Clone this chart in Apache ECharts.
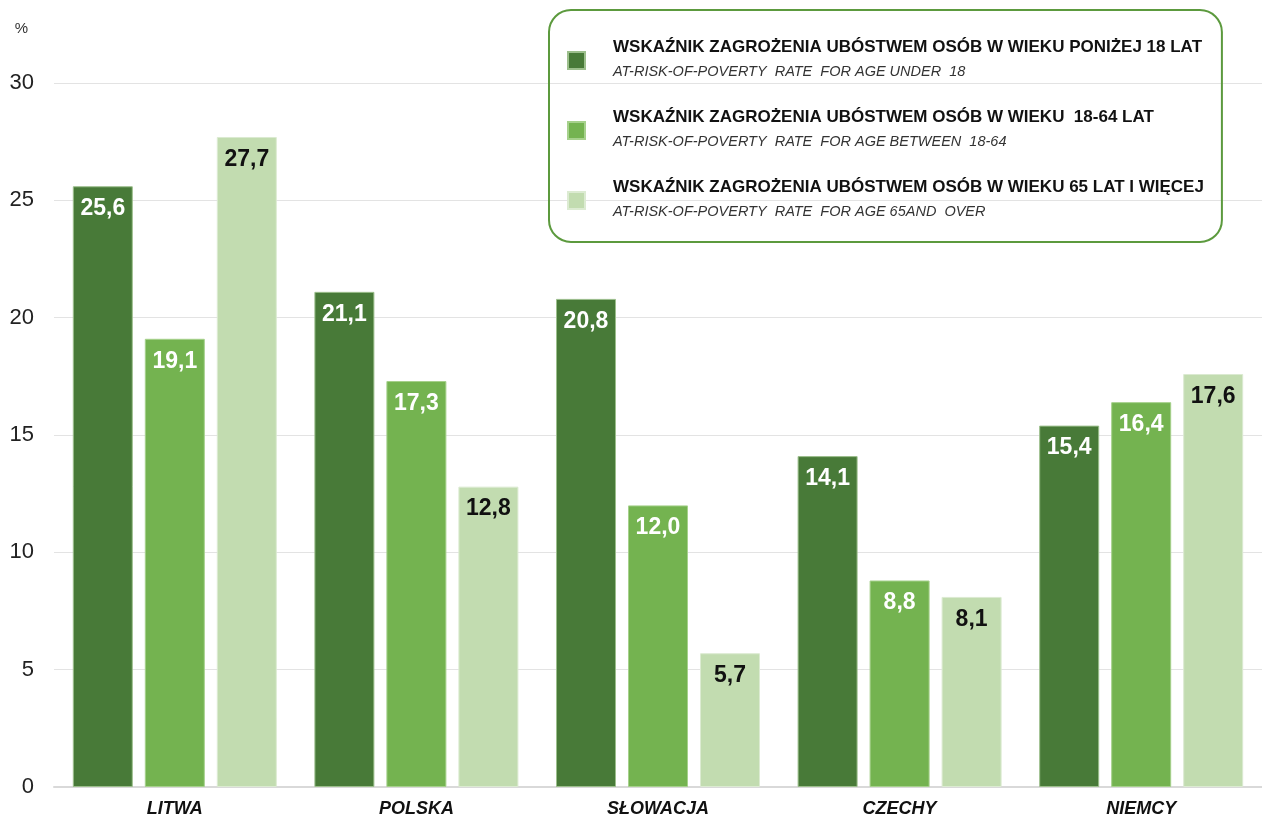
<!DOCTYPE html>
<html>
<head>
<meta charset="utf-8">
<title>Wskaźnik zagrożenia ubóstwem</title>
<script src="https://cdn.jsdelivr.net/npm/echarts@6/dist/echarts.min.js"></script>
<style>
  html, body { margin: 0; padding: 0; background: #fff; }
  #chart { width: 1262px; height: 821px; }
</style>
</head>
<body>
<div id="chart"></div>
<script>
// countries
const categories = ['LITWA', 'POLSKA', 'SŁOWACJA', 'CZECHY', 'NIEMCY'];

// at-risk-of-poverty rate, %
const under18 = [25.6, 21.1, 20.8, 14.1, 15.4];
const age18to64 = [19.1, 17.3, 12.0, 8.8, 16.4];
const age65plus = [27.7, 12.8, 5.7, 8.1, 17.6];

const seriesNames = [
  ['WSKAŹNIK ZAGROŻENIA UBÓSTWEM OSÓB W WIEKU PONIŻEJ 18 LAT', 'AT-RISK-OF-POVERTY  RATE  FOR AGE UNDER  18'],
  ['WSKAŹNIK ZAGROŻENIA UBÓSTWEM OSÓB W WIEKU  18-64 LAT', 'AT-RISK-OF-POVERTY  RATE  FOR AGE BETWEEN  18-64'],
  ['WSKAŹNIK ZAGROŻENIA UBÓSTWEM OSÓB W WIEKU 65 LAT I WIĘCEJ', 'AT-RISK-OF-POVERTY  RATE  FOR AGE 65AND  OVER']
];

const colors = ['#487a38', '#74b350', '#c2dcb0'];
const borders = ['#9cbf8c', '#a6d18c', '#dcebd2'];
const labelColors = ['#fff', '#fff', '#111'];

const chart = echarts.init(document.getElementById('chart'));

const fmt = p => p.value.toFixed(1).replace('.', ',');

function makeSeries(i, data) {
  return {
    name: seriesNames[i][0],
    type: 'bar',
    data: data,
    barWidth: 60,
    barGap: '20%',
    itemStyle: { color: colors[i], borderColor: borders[i], borderWidth: 1 },
    label: {
      show: true,
      position: 'insideTop',
      distance: 11,
      formatter: fmt,
      color: labelColors[i],
      fontWeight: 'bold',
      fontSize: 23
    }
  };
}

const nameLookup = {};
seriesNames.forEach(n => { nameLookup[n[0]] = n[1]; });

chart.setOption({
  animation: false,
  textStyle: { fontFamily: 'Liberation Sans, Arial, sans-serif' },
  grid: { left: 54, top: 83, width: 1212, bottom: 34, containLabel: false },
  legend: {
    orient: 'vertical',
    left: 549,
    top: 10,
    padding: [29, 18, 23, 18],
    itemGap: 30,
    itemWidth: 17,
    itemHeight: 17,
    icon: 'rect',
    borderColor: '#5c9a3e',
    borderWidth: 2,
    borderRadius: 22,
    formatter: name => '{b|' + name + '}\n{i|' + nameLookup[name] + '}',
    textStyle: {
      padding: [0, 0, 0, 23],
      rich: {
        b: {
          fontWeight: 'bold',
          fontSize: 17,
          color: '#111',
          lineHeight: 22
        },
        i: {
          fontStyle: 'italic',
          fontSize: 14.5,
          color: '#333',
          lineHeight: 26
        }
      }
    }
  },
  xAxis: {
    type: 'category',
    data: categories,
    axisTick: { show: false },
    axisLine: { lineStyle: { color: '#d9d9d9', width: 2 } },
    axisLabel: {
      margin: 13,
      color: '#111',
      fontWeight: 'bold',
      fontStyle: 'italic',
      fontSize: 18
    }
  },
  yAxis: {
    type: 'value',
    min: 0,
    max: 30,
    interval: 5,
    name: '%',
    nameLocation: 'end',
    nameGap: 47,
    nameTextStyle: { color: '#333', fontSize: 15, align: 'right', padding: [0, 26, 0, 0] },
    axisLine: { show: false },
    axisTick: { show: false },
    splitLine: { lineStyle: { color: '#e3e3e3', width: 1 } },
    axisLabel: { color: '#222', fontSize: 22, margin: 20 }
  },
  series: [
    makeSeries(0, under18),
    makeSeries(1, age18to64),
    makeSeries(2, age65plus)
  ]
});
</script>
</body>
</html>
